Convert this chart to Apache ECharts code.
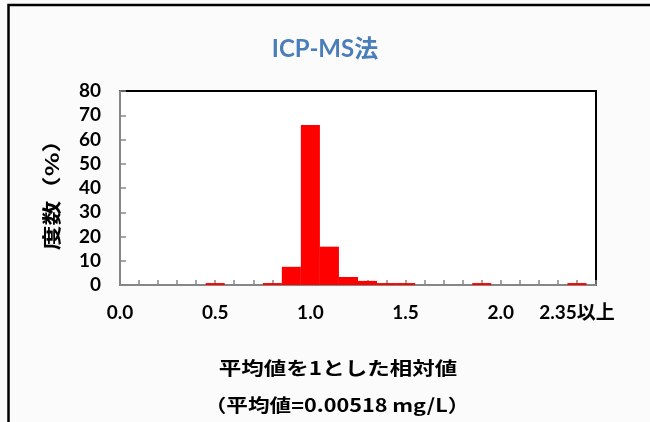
<!DOCTYPE html>
<html>
<head>
<meta charset="utf-8">
<script src="https://cdn.jsdelivr.net/npm/echarts@6/dist/echarts.min.js"></script>
<style>
  html, body { margin: 0; padding: 0; background: #fbfbfb; }
  #chart { width: 650px; height: 422px; }
</style>
</head>
<body>
<div id="chart"></div>
<script>
// Histogram bins: relative value (mean = 1), last bin collects 2.35 and above
const categories = ['0.0','0.1','0.2','0.3','0.4','0.5','0.6','0.7','0.8','0.9',
                    '1.0','1.1','1.2','1.3','1.4','1.5','1.6','1.7','1.8','1.9',
                    '2.0','2.1','2.2','2.3','2.35以上',''];
// Frequency in percent for each bin
const frequency = [0,0,0,0,0,0.8,0,0,0.8,7.5,
                   66,15.8,3.3,1.7,0.8,0.8,0,0,0,0.8,
                   0,0,0,0,0.8,0];
// Bins that carry a printed label under the axis
const tickLabels = ['0.0','0.5','1.0','1.5','2.0','2.35以上'];
// Frequency axis range
const yMin = 0, yMax = 80, yStep = 10;

const latin = 'Lato, "Noto Sans CJK JP", sans-serif';
const cjk = '"Noto Sans CJK JP", sans-serif';

const chart = echarts.init(document.getElementById('chart'), null, { renderer: 'canvas' });

chart.setOption({
  backgroundColor: '#fbfbfb',
  animation: false,
  title: {
    text: 'ICP-MS法',
    left: 'center',
    top: 32,
    padding: [5, 10, 5, 0],
    textStyle: { color: '#4a7ebb', fontSize: 24, fontWeight: 'bold', fontFamily: latin }
  },
  grid: {
    left: 120, right: 54, top: 91, bottom: 137,
    show: true,
    backgroundColor: '#ffffff',
    borderColor: '#000000',
    borderWidth: 2
  },
  xAxis: {
    type: 'category',
    data: categories,
    boundaryGap: false,
    axisLine: { lineStyle: { color: '#868686', width: 2 } },
    axisTick: { inside: true, length: 5, interval: 0, lineStyle: { color: '#868686', width: 1.5 } },
    axisLabel: {
      interval: (index, value) => tickLabels.includes(value),
      margin: 18,
      color: '#000',
      fontSize: 19,
      fontWeight: 'bold',
      fontFamily: latin
    },
    splitLine: { show: false }
  },
  yAxis: {
    type: 'value',
    min: yMin, max: yMax, interval: yStep,
    axisLine: { show: true, lineStyle: { color: '#868686', width: 2 } },
    axisTick: { show: true, inside: true, length: 6, lineStyle: { color: '#868686', width: 1.5 } },
    axisLabel: {
      margin: 19,
      color: '#000',
      fontSize: 19,
      fontWeight: 'bold',
      fontFamily: latin
    },
    splitLine: { show: false }
  },
  series: [{
    type: 'bar',
    data: frequency,
    barCategoryGap: '0%',
    itemStyle: { color: '#ff0000' }
  }],
  graphic: [
    {
      type: 'rect',
      silent: true,
      shape: { x: 8.5, y: 5, width: 700, height: 500 },
      style: { fill: null, stroke: '#000', lineWidth: 2.5 }
    },
    {
      type: 'text',
      x: 52, y: 189,
      rotation: Math.PI / 2,
      scaleX: 1.3,
      style: { text: '度数（%）', font: 'bold 19px ' + cjk, fill: '#000', align: 'center', verticalAlign: 'middle' }
    },
    {
      type: 'text',
      x: 338, y: 368,
      scaleX: 1.25,
      style: { text: '平均値を1とした相対値', font: 'bold 18px ' + cjk, fill: '#000', align: 'center', verticalAlign: 'middle' }
    },
    {
      type: 'text',
      x: 337, y: 405,
      scaleX: 1.2,
      style: { text: '（平均値=0.00518 mg/L）', font: 'bold 18px ' + cjk, fill: '#000', align: 'center', verticalAlign: 'middle' }
    }
  ]
});
</script>
</body>
</html>
